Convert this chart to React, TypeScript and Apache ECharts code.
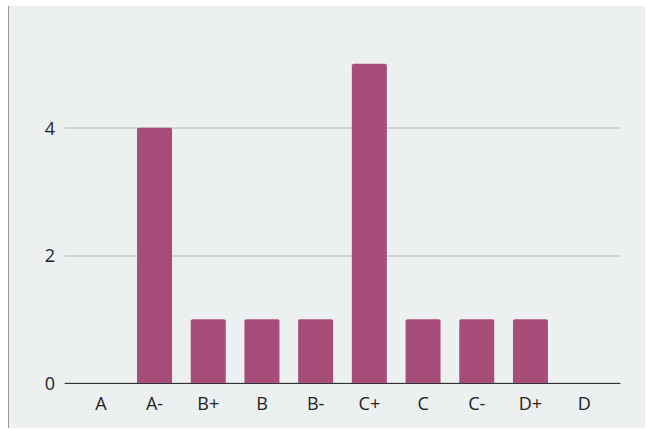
import React, { useEffect, useRef } from "react";
import * as echarts from "echarts";

const categories = ["A", "A-", "B+", "B", "B-", "C+", "C", "C-", "D+", "D"];
const counts = [0, 4, 1, 1, 1, 5, 1, 1, 1, 0];
const yTicks = [0, 2, 4];

export default function App() {
  const ref = useRef<HTMLDivElement>(null);
  useEffect(() => {
    if (!ref.current) return;
    const chart = echarts.init(ref.current, undefined, { renderer: "svg" });
    chart.setOption({
      animation: false,
      grid: { left: 65, right: 26, top: -1, bottom: 47 },
      xAxis: {
        type: "value",
        min: -0.667,
        max: 9.667,
        splitLine: { show: false },
        axisLine: { show: true, onZero: false, lineStyle: { color: "#333333", width: 1 } },
        axisTick: { show: false },
        axisLabel: {
          color: "#222222",
          fontSize: 18,
          fontFamily: "Open Sans",
          margin: 11,
          customValues: categories.map((_, i) => i),
          formatter: (v: number) => categories[Math.round(v)] ?? "",
        },
      },
      yAxis: {
        type: "value",
        min: 0,
        max: 6,
        interval: 2,
        axisLine: { show: false },
        axisTick: { show: false },
        axisLabel: {
          color: "#222222",
          fontSize: 18,
          fontFamily: "Open Sans",
          margin: 10,
          formatter: (v: number) => (yTicks.includes(v) ? String(v) : ""),
        },
        splitLine: { showMaxLine: false, lineStyle: { color: "#c4c8ca", width: 1.5 } },
      },
      series: [
        {
          type: "bar",
          data: counts.map((c, i) => [i, c]),
          barWidth: 35,
          itemStyle: { color: "#a64d79", borderRadius: [2, 2, 0, 0] },
        },
      ],
    });
    return () => chart.dispose();
  }, []);
  return (
    <div style={{ position: "absolute", left: 0, top: 0, width: 646, height: 430 }}>
      <div
        style={{
          position: "absolute",
          left: 8,
          top: 6,
          width: 636,
          height: 422,
          background: "#ecf0f1",
          borderLeft: "1.5px solid #9a9a9a",
        }}
      />
      <div ref={ref} style={{ position: "absolute", left: 0, top: 0, width: 646, height: 430 }} />
    </div>
  );
}
